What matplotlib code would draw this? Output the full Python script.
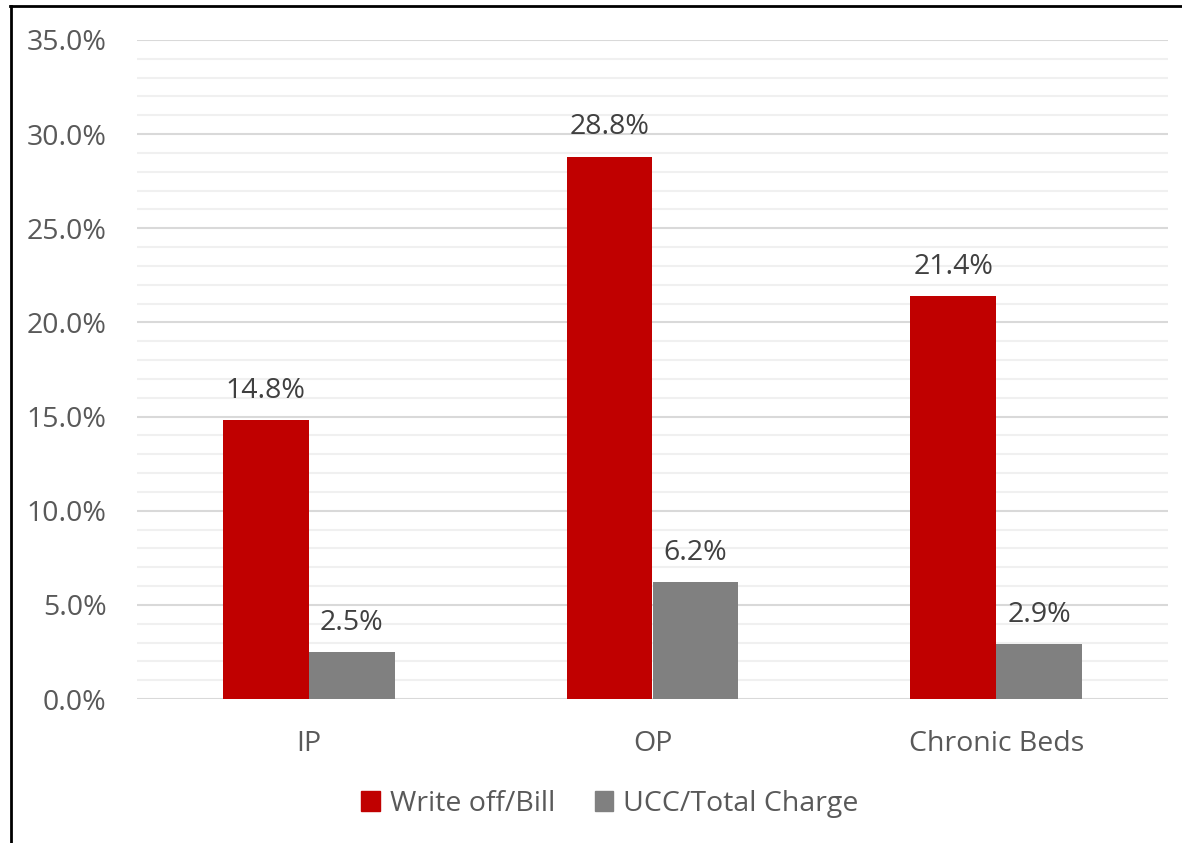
import matplotlib
matplotlib.use("Agg")
import matplotlib.pyplot as plt
from matplotlib.lines import Line2D
from matplotlib.patches import Patch
import numpy as np

categories = ["IP", "OP", "Chronic Beds"]
series_names = ["Write off/Bill", "UCC/Total Charge"]
write_off = [14.8, 28.8, 21.4]
ucc = [2.5, 6.2, 2.9]
colors = ["#C00000", "#808080"]
yticks = [0, 5, 10, 15, 20, 25, 30, 35]

plt.rcParams['font.family'] = ['Open Sans', 'DejaVu Sans']
FS = 20.5

fig = plt.figure(figsize=(11.82, 8.43), dpi=100)
W, H = 1182, 843
ax = fig.add_axes([137 / W, 1 - 699 / H, (1168 - 137) / W, (699 - 40) / H])

x = np.arange(len(categories))
bw = 0.25
b1 = ax.bar(x - bw / 2, write_off, bw, color=colors[0], label=series_names[0], zorder=3)
b2 = ax.bar(x + bw / 2, ucc, bw, color=colors[1], label=series_names[1], zorder=3)

for bars, vals in ((b1, write_off), (b2, ucc)):
    for r, v in zip(bars, vals):
        ax.annotate(f"{v:.1f}%", (r.get_x() + r.get_width() / 2, v),
                    xytext=(0, 11), textcoords="offset points",
                    ha="center", va="bottom", fontsize=FS, color="#404040")

ax.set_xlim(-0.5, 2.5)
ax.set_ylim(0, 35)
ax.set_yticks(yticks)
ax.set_yticklabels([f"{t:.1f}%" for t in yticks])
ax.set_yticks(np.arange(0, 35, 1), minor=True)
ax.set_xticks(x)
ax.set_xticklabels(categories)
ax.tick_params(axis="both", length=0, labelsize=FS, colors="#595959")
ax.tick_params(axis="y", which="minor", length=0)
ax.tick_params(axis="y", pad=22)
ax.tick_params(axis="x", pad=22)
ax.grid(axis="y", which="major", color="#D9D9D9", linewidth=1.5, zorder=0)
ax.grid(axis="y", which="minor", color="#F0F0F0", linewidth=1.5, zorder=0)
for s in ax.spines.values():
    s.set_visible(False)

handles = [Patch(color=colors[0]), Patch(color=colors[1])]
fig.legend(handles, series_names, loc="center", bbox_to_anchor=(610 / W, 1 - 804 / H),
           ncol=2, frameon=False, fontsize=FS, labelcolor="#595959",
           handlelength=0.65, handleheight=0.65, handletextpad=0.35, columnspacing=1.4)

fig.add_artist(Line2D([11 / W, 11 / W], [0, 1 - 6 / H], color="black", linewidth=2, transform=fig.transFigure))
fig.add_artist(Line2D([10 / W, 1181 / W], [1 - 6 / H, 1 - 6 / H], color="black", linewidth=2, transform=fig.transFigure))

fig.savefig("out.png", dpi=100)
